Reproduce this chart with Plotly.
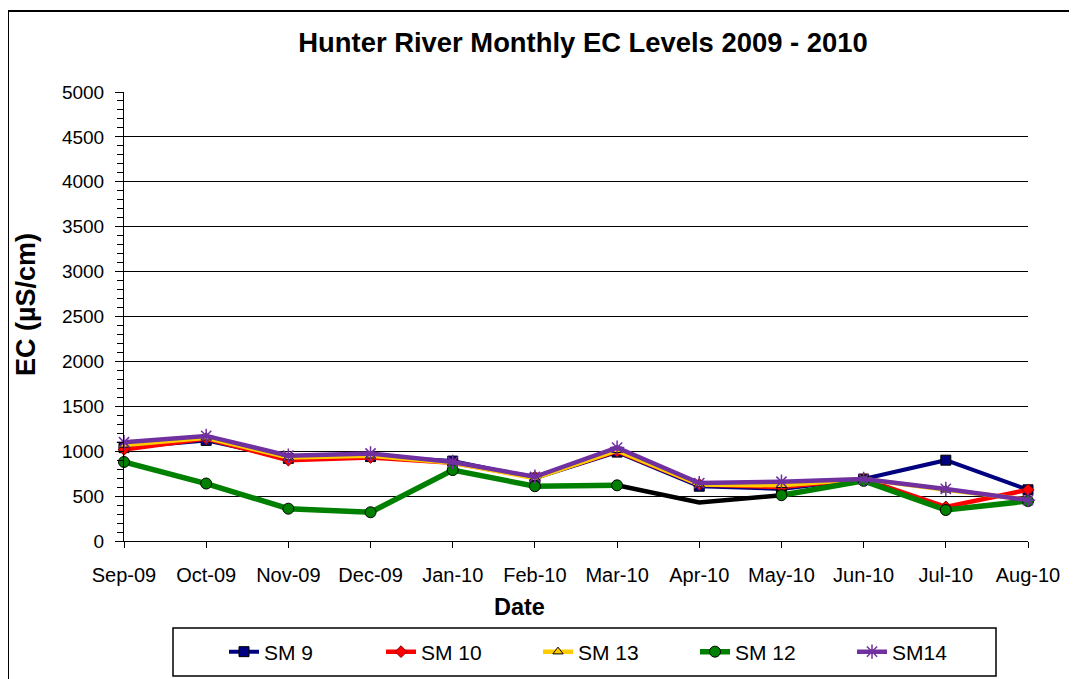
import plotly.graph_objects as go

months = ['Sep-09', 'Oct-09', 'Nov-09', 'Dec-09', 'Jan-10', 'Feb-10',
          'Mar-10', 'Apr-10', 'May-10', 'Jun-10', 'Jul-10', 'Aug-10']

sm9 = [1040, 1120, 920, 940, 890, 700, 990, 610, 580, 690, 900, 570]
sm10 = [1020, 1140, 900, 930, 870, 710, 1000, 630, 600, 690, 380, 570]
sm13 = [1070, 1150, 930, 950, 870, 700, 1010, 630, 620, 690, 570, 460]
sm12 = [880, 640, 360, 320, 790, 610, 620, None, 510, 670, 345, 445]
sm14 = [1100, 1170, 950, 975, 880, 715, 1040, 645, 660, 690, 580, 455]
# unlabelled black series visible only between Mar-10 and May-10
other = [None, None, None, None, None, None, 620, 430, 510, None, None, None]

FONT = 'Liberation Sans, Arial, sans-serif'

#page body has an 8px margin, so the figure is sized/offset for it
OFF = 8
W, H = 1077 - OFF, 679 - OFF
PL, PT, PW, PH = 124, 92, 904, 449  #plot area in window pixels

def px(x):
  return (x - PL) / PW

def py(y):
  return (PT + PH - y) / PH

fig = go.Figure()

fig.add_trace(go.Scatter(x = months, y = other, mode = 'lines', showlegend = False,
                         line = dict(color = 'black', width = 4.5), cliponaxis = False))

series = [
  ('SM 9', sm9, '#000080', 4, dict(symbol = 'square', size = 10, color = '#000080', line = dict(color = 'black', width = 1))),
  ('SM 10', sm10, '#FF0000', 4.5, dict(symbol = 'diamond', size = 9, color = '#FF0000', line = dict(color = '#800000', width = 1))),
  ('SM 13', sm13, '#FFCC00', 4.5, dict(symbol = 'triangle-up', size = 9, color = '#FFCC00', line = dict(color = 'black', width = 1))),
  ('SM 12', sm12, '#008000', 5.5, dict(symbol = 'circle', size = 11, color = '#008000', line = dict(color = 'black', width = 1))),
  ('SM14', sm14, '#7030A0', 4.5, dict(symbol = 'asterisk-open', size = 12, color = '#7030A0', line = dict(color = '#7030A0', width = 1.5))),
]
for name, vals, col, lw, mk in series:
  fig.add_trace(go.Scatter(x = months, y = vals, name = name, mode = 'lines+markers',
                           line = dict(color = col, width = lw), marker = mk,
                           connectgaps = False, cliponaxis = False))

#outer chart border and legend box
fig.add_shape(type = 'rect', xref = 'paper', yref = 'paper',
              x0 = px(8), x1 = px(1100), y0 = py(700), y1 = py(11),
              line = dict(color = 'black', width = 2), layer = 'below')
fig.add_shape(type = 'rect', xref = 'paper', yref = 'paper',
              x0 = px(173), x1 = px(996), y0 = py(676), y1 = py(628),
              line = dict(color = 'black', width = 1.5))

fig.add_annotation(text = '<b>Date</b>', xref = 'paper', yref = 'paper',
                   x = px(519), y = py(607), xanchor = 'center', yanchor = 'middle',
                   showarrow = False, font = dict(size = 23.5))
fig.add_annotation(text = '<b>EC (µS/cm)</b>', xref = 'paper', yref = 'paper', textangle = -90,
                   x = px(26), y = py(305), xanchor = 'center', yanchor = 'middle',
                   showarrow = False, font = dict(size = 27))

fig.update_layout(
  width = W, height = H,
  margin = dict(l = PL - OFF, r = W - (PL - OFF) - PW, t = PT - OFF, b = H - (PT - OFF) - PH,
                autoexpand = False),
  paper_bgcolor = 'white', plot_bgcolor = 'white',
  font = dict(family = FONT, color = 'black', size = 18),
  title = dict(text = '<b>Hunter River Monthly EC Levels 2009 - 2010</b>',
               x = (583 - OFF) / W, xref = 'container', xanchor = 'center',
               y = 1 - (42 - OFF) / H, yref = 'container', yanchor = 'middle',
               font = dict(size = 27.4, family = FONT)),
  legend = dict(orientation = 'h', x = px(224), xanchor = 'left',
                y = py(652), yanchor = 'middle',
                entrywidth = 112, entrywidthmode = 'pixels', itemwidth = 30,
                font = dict(size = 21), bgcolor = 'rgba(0,0,0,0)'),
  xaxis = dict(type = 'category', range = [0, 11], showline = True, linecolor = 'black', linewidth = 1,
               ticks = 'outside', ticklen = 6, tickcolor = 'black', showgrid = False,
               tickfont = dict(size = 20), ticklabelstandoff = 10),
  yaxis = dict(range = [0, 5000], dtick = 500, showline = True, linecolor = 'black', linewidth = 1,
               ticks = 'outside', ticklen = 8, tickcolor = 'black',
               showgrid = True, gridcolor = 'black', gridwidth = 1, zeroline = False,
               tickfont = dict(size = 19), ticklabelstandoff = 7,
               minor = dict(dtick = 100, ticks = 'outside', ticklen = 6, tickcolor = 'black', showgrid = False)),
)

fig.write_html('out.html')
